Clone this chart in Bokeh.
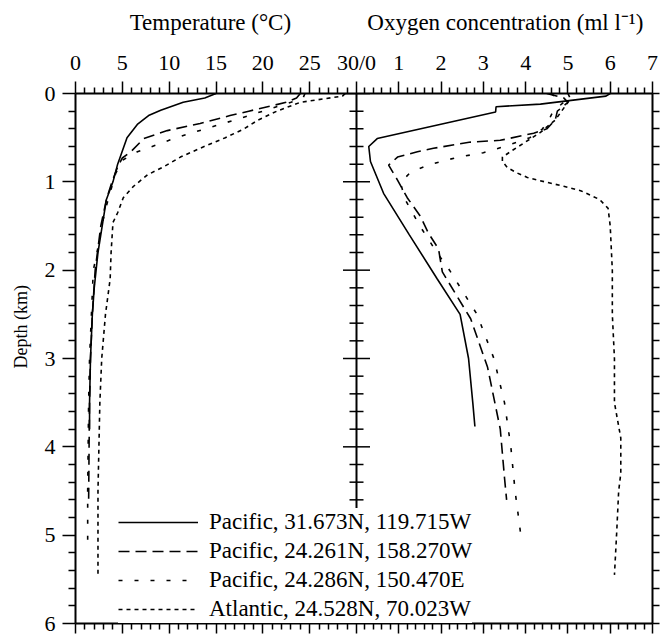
import numpy as np
from bokeh.plotting import figure
from bokeh.layouts import column, row
from bokeh.models import (Range1d, LinearAxis, FixedTicker, CustomJSTickFormatter,
                          Legend, LegendItem)
from bokeh.core.properties import value
from bokeh.embed import file_html
from bokeh.resources import INLINE

# ---------------- data ----------------
labels = ["Pacific, 31.673N, 119.715W", "Pacific, 24.261N, 158.270W",
          "Pacific, 24.286N, 150.470E", "Atlantic, 24.528N, 70.023W"]

# Temperature profiles (depth km, temperature degC)
t1_depth = [0, 0.05, 0.1, 0.19, 0.25, 0.35, 0.5, 0.65, 0.8, 1.0, 1.2, 1.4, 1.6, 1.8, 2.0, 2.2, 2.5, 3.0, 3.5, 3.8]
t1_temp = [15.0, 13.8, 11.5, 9.1, 7.8, 6.6, 5.5, 5.0, 4.5, 4.0, 3.3, 3.0, 2.7, 2.4, 2.2, 2.0, 1.8, 1.6, 1.5, 1.5]

t2_depth = [0, 0.05, 0.1, 0.15, 0.2, 0.25, 0.34, 0.42, 0.51, 0.66, 0.73, 0.83, 1.0, 1.2, 1.5, 2.0, 2.5, 3.0, 3.5, 4.0, 4.65]
t2_temp = [24.0, 23.6, 22.5, 20.5, 18.5, 16.5, 13.3, 9.8, 7.3, 5.9, 5.0, 4.5, 3.9, 3.3, 2.7, 2.1, 1.8, 1.6, 1.5, 1.45, 1.4]

t3_depth = [0, 0.05, 0.1, 0.2, 0.3, 0.45, 0.51, 0.58, 0.66, 0.75, 0.9, 1.12, 1.31, 1.55, 1.8, 2.0, 2.5, 3.0, 3.5, 4.0, 4.5, 5.15]
t3_temp = [24.5, 24.3, 23.0, 20.0, 17.0, 12.3, 10.5, 8.7, 6.6, 5.1, 4.3, 3.7, 3.2, 2.7, 2.3, 1.9, 1.7, 1.5, 1.4, 1.35, 1.3, 1.3]

t4_depth = [0, 0.03, 0.1, 0.2, 0.3, 0.4, 0.5, 0.62, 0.72, 0.83, 0.92, 1.05, 1.18, 1.35, 1.46, 1.8, 2.1, 2.5, 3.0, 3.5, 4.0, 4.5, 5.0, 5.45]
t4_temp = [28.8, 28.5, 24.0, 21.5, 19.5, 18.0, 16.0, 13.3, 11.2, 9.4, 7.7, 6.2, 5.1, 4.5, 4.0, 3.8, 3.7, 3.2, 2.8, 2.6, 2.5, 2.4, 2.4, 2.4]

# Oxygen profiles (depth km, oxygen ml/l)
o1_depth = [0, 0.03, 0.12, 0.15, 0.21, 0.51, 0.6, 0.77, 1.13, 1.6, 2.1, 2.5, 3.0, 3.5, 3.77]
o1_oxy = [6.0, 5.9, 4.35, 3.3, 3.29, 0.49, 0.29, 0.33, 0.64, 1.25, 1.91, 2.45, 2.65, 2.75, 2.8]

o2_depth = [0, 0.05, 0.1, 0.2, 0.3, 0.4, 0.45, 0.53, 0.55, 0.62, 0.66, 0.72, 0.81, 0.98, 1.18, 1.39, 1.58, 1.76, 2.02, 2.55, 3.1, 3.8, 4.35, 4.6]
o2_oxy = [4.5, 4.9, 5.0, 4.75, 4.7, 4.5, 4.19, 3.4, 2.7, 1.82, 1.44, 0.97, 0.76, 0.97, 1.2, 1.51, 1.7, 1.94, 2.03, 2.7, 3.1, 3.4, 3.5, 3.55]

o3_depth = [0, 0.05, 0.1, 0.2, 0.3, 0.4, 0.5, 0.6, 0.67, 0.71, 0.75, 0.81, 0.89, 1.01, 1.2, 1.5, 1.8, 2.0, 2.5, 3.0, 3.5, 4.0, 4.5, 5.05]
o3_oxy = [4.6, 4.75, 4.9, 4.65, 4.55, 4.4, 4.1, 3.5, 3.0, 2.53, 2.15, 1.7, 1.28, 1.04, 1.15, 1.5, 1.9, 2.2, 2.85, 3.25, 3.5, 3.65, 3.75, 3.9]

o4_depth = [0, 0.05, 0.1, 0.2, 0.3, 0.44, 0.64, 0.72, 0.77, 0.84, 0.9, 0.95, 0.98, 1.05, 1.1, 1.2, 1.3, 1.5, 2.0, 2.5, 3.0, 3.5, 3.9, 4.3, 4.5, 5.0, 5.45]
o4_oxy = [5.0, 5.05, 5.0, 4.85, 4.7, 4.35, 3.7, 3.45, 3.45, 3.57, 3.8, 4.04, 4.28, 4.9, 5.3, 5.75, 5.95, 6.0, 6.05, 6.05, 6.1, 6.1, 6.25, 6.25, 6.2, 6.15, 6.1]

temp_major = [0, 5, 10, 15, 20, 25, 30]
oxy_major = [0, 1, 2, 3, 4, 5, 6, 7]
depth_major = [0, 1, 2, 3, 4, 5, 6]

titles = ["Temperature (°C)", "Oxygen concentration (ml l\u207b\u00b9)"]
y_title = "Depth (km)"

# ---------------- layout helpers ----------------
FONT = "Liberation Serif"
MID = 281 / 577          # fraction of the frame width where the two panels meet
T_MAX = 30.0
O_MAX = 7.0
t_end = T_MAX / MID
o_start = -O_MAX * MID / (1 - MID)

HEAD_H = 40
SIDE_W = 36
TOTAL_W, TOTAL_H = 663, 637
FRAME_L, FRAME_R = 75, 652      # page pixels
MAIN_TOP, MAIN_BOTTOM = 53, 14  # borders of the main figure

def ft(t):
    return min(max(round(t / T_MAX * MID, 10), 0.0), 1.0)

def fo(o):
    return min(max(round(MID + o / O_MAX * (1 - MID), 10), 0.0), 1.0)

major_pos = [ft(t) for t in temp_major[:-1]] + [fo(o) for o in oxy_major]
major_lab = [str(t) for t in temp_major[:-1]] + ["30/0"] + [str(o) for o in oxy_major[1:]]
minor_pos = [ft(t) for t in range(0, 31) if t % 5] + \
            [fo(o) for o in np.round(np.arange(0, 7.0001, 0.2), 4) if abs(o - round(o)) > 1e-6]
depth_minor = [d for d in np.round(np.arange(0, 6.0001, 0.2), 4) if abs(d - round(d)) > 1e-6]

def bare(fig):
    fig.outline_line_color = None
    fig.xgrid.visible = False
    fig.ygrid.visible = False
    return fig

def xranges():
    return {"temp": Range1d(0, t_end), "oxy": Range1d(o_start, O_MAX)}

y_range = Range1d(6, 0)

# ---- main figure ----
p = figure(width=TOTAL_W - SIDE_W, height=TOTAL_H - HEAD_H, output_backend="svg",
           toolbar_location=None, x_range=Range1d(0, 1), y_range=y_range,
           x_axis_location=None, y_axis_location=None,
           min_border_left=FRAME_L - SIDE_W, min_border_right=TOTAL_W - FRAME_R,
           min_border_top=MAIN_TOP, min_border_bottom=MAIN_BOTTOM)
bare(p)
p.extra_x_ranges = xranges()

def style(ax):
    ax.axis_line_width = 2
    ax.axis_line_color = "black"
    ax.major_tick_line_width = 1.5
    ax.minor_tick_line_width = 1.5
    ax.major_tick_in = 0
    ax.minor_tick_in = 0
    ax.major_label_text_font = FONT
    ax.major_label_text_font_size = "22px"
    ax.major_label_text_color = "black"

fmt_top = CustomJSTickFormatter(args=dict(pos=major_pos, labels=major_lab), code="""
    for (let i = 0; i < pos.length; i++) { if (Math.abs(pos[i] - tick) < 1e-6) return labels[i]; }
    return "";
""")
blank = CustomJSTickFormatter(code='return "";')

top = LinearAxis(ticker=FixedTicker(ticks=major_pos, minor_ticks=minor_pos), formatter=fmt_top)
style(top)
top.major_tick_out = 12
top.minor_tick_out = 6
top.major_label_standoff = 7
p.add_layout(top, "above")

bottom = LinearAxis(ticker=FixedTicker(ticks=major_pos, minor_ticks=minor_pos), formatter=blank)
style(bottom)
bottom.major_tick_out = 10
bottom.minor_tick_out = 6
bottom.major_label_standoff = 0
bottom.major_label_text_font_size = "0px"
p.add_layout(bottom, "below")

left = LinearAxis(ticker=FixedTicker(ticks=depth_major, minor_ticks=depth_minor))
style(left)
left.major_tick_out = 13
left.minor_tick_out = 7
left.major_label_standoff = 7
p.add_layout(left, "left")

right = LinearAxis(ticker=FixedTicker(ticks=depth_major, minor_ticks=depth_minor), formatter=blank)
style(right)
right.major_tick_out = 7
right.minor_tick_out = 7
right.major_label_standoff = 0
right.major_label_text_font_size = "0px"
p.add_layout(right, "right")

# middle axis separating the two panels (ticks on both sides)
p.segment(x0=[T_MAX], y0=[0], x1=[T_MAX], y1=[6], x_range_name="temp",
          line_color="black", line_width=2)
p.scatter(x=[T_MAX] * len(depth_major), y=depth_major, marker="dash", size=27,
          x_range_name="temp", line_color="black", line_width=1.5)
p.scatter(x=[T_MAX] * len(depth_minor), y=depth_minor, marker="dash", size=14,
          x_range_name="temp", line_color="black", line_width=1.5)

dashes = ["solid", "11 6", "4 12", "4 4"]
tdata = [(t1_temp, t1_depth), (t2_temp, t2_depth), (t3_temp, t3_depth), (t4_temp, t4_depth)]
odata = [(o1_oxy, o1_depth), (o2_oxy, o2_depth), (o3_oxy, o3_depth), (o4_oxy, o4_depth)]

items = []
for i in range(4):
    rt = p.line(x=tdata[i][0], y=tdata[i][1], x_range_name="temp",
                line_color="black", line_width=1.6, line_dash=dashes[i])
    p.line(x=odata[i][0], y=odata[i][1], x_range_name="oxy",
           line_color="black", line_width=1.6, line_dash=dashes[i])
    items.append(LegendItem(label=labels[i], renderers=[rt]))

legend = Legend(items=items, location=(43, 0), padding=3, margin=0, spacing=1,
                glyph_width=80, glyph_height=28, label_height=28, label_standoff=11,
                label_text_font=FONT, label_text_font_size="23px",
                label_text_color="black",
                border_line_color=None, background_fill_color="white",
                background_fill_alpha=1.0)
p.add_layout(legend, "center")

# ---- header with the two panel titles ----
h = figure(width=TOTAL_W, height=HEAD_H, output_backend="svg", toolbar_location=None,
           x_range=Range1d(0, 1), y_range=Range1d(0, 1),
           x_axis_location=None, y_axis_location=None,
           min_border_left=FRAME_L, min_border_right=TOTAL_W - FRAME_R,
           min_border_top=0, min_border_bottom=0)
bare(h)
h.extra_x_ranges = xranges()
h.text(x=[14.4], y=[0.45], text=[titles[0]], x_range_name="temp",
       text_font=value(FONT), text_font_size="23px", text_align="center",
       text_baseline="middle", text_color="black")
h.text(x=[3.52], y=[0.45], text=[titles[1]], x_range_name="oxy",
       text_font=value(FONT), text_font_size="23px", text_align="center",
       text_baseline="middle", text_color="black")

# ---- side strip with the depth-axis title ----
s = figure(width=SIDE_W, height=TOTAL_H - HEAD_H, output_backend="svg", toolbar_location=None,
           x_range=Range1d(0, 1), y_range=y_range,
           x_axis_location=None, y_axis_location=None,
           min_border_left=0, min_border_right=0,
           min_border_top=MAIN_TOP, min_border_bottom=MAIN_BOTTOM)
bare(s)
s.text(x=[0.56], y=[2.64], text=[y_title], angle=np.pi / 2,
       text_font=value(FONT), text_font_size="18px", text_align="center",
       text_baseline="middle", text_color="black")

layout = column(h, row(s, p, spacing=0), spacing=0)
open("out.html", "w").write(file_html(layout, INLINE))
